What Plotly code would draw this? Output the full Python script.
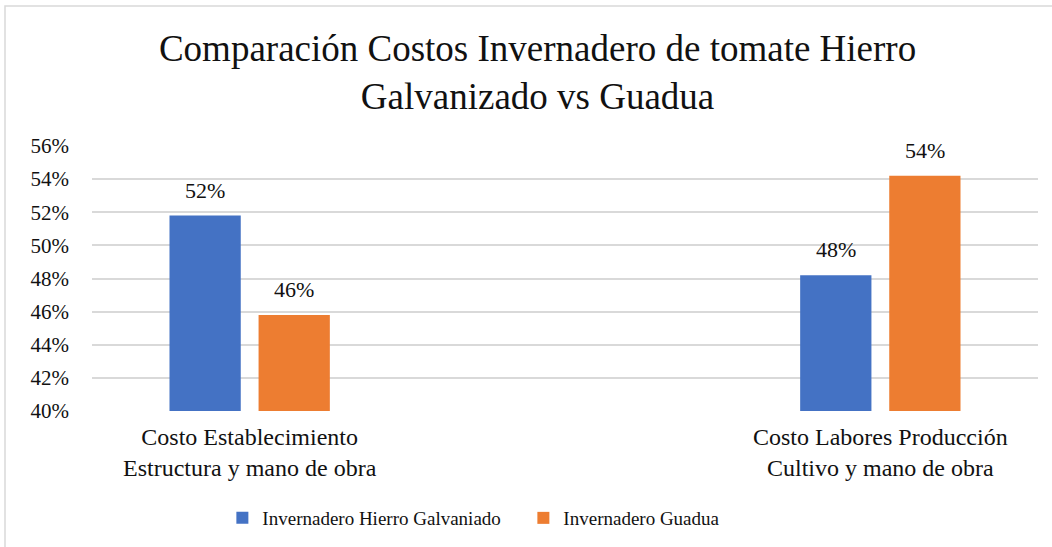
import plotly.graph_objects as go

categories = ["Costo Establecimiento<br>Estructura y mano de obra",
              "Costo Labores Producción<br>Cultivo y mano de obra"]
axis_categories = [categories[0], " ", categories[1]]
series_names = ["Invernadero Hierro Galvaniado", "Invernadero Guadua"]
hierro_values = [0.518, 0.482]
guadua_values = [0.458, 0.542]
y_ticks = [0.40, 0.42, 0.44, 0.46, 0.48, 0.50, 0.52, 0.54, 0.56]
colors = ["#4472C4", "#ED7D31"]

FONT = "Liberation Serif, Times New Roman, serif"
TXT = "#111111"

W, H = 1052, 547
ML, MR, MT, MB = 92, 14, 146, 136
BARGAP, GROUPGAP = 0.435, 0.2

fig = go.Figure()
series = [hierro_values, guadua_values]
for name, vals, col in zip(series_names, series, colors):
    fig.add_trace(go.Bar(
        x=categories, y=vals, name=name, marker_color=col,
        marker_line_width=0, cliponaxis=False,
    ))

# data labels placed above each bar (offset derived from the bar layout)
plot_w = W - ML - MR
slot_px = plot_w / len(axis_categories) * (1 - BARGAP) / len(series)
for i, vals in enumerate(series):
    for cat, v in zip(categories, vals):
        fig.add_annotation(x=cat, y=v, text=f"{round(v * 100)}%",
                           showarrow=False, yanchor="bottom", xanchor="center",
                           xshift=(i - (len(series) - 1) / 2) * slot_px, yshift=11,
                           font=dict(family=FONT, size=22, color=TXT))

fig.update_layout(
    width=W, height=H,
    margin=dict(l=ML, r=MR, t=MT, b=MB),
    paper_bgcolor="white", plot_bgcolor="white",
    barmode="group", bargap=BARGAP, bargroupgap=GROUPGAP,
    title=dict(text="Comparación Costos Invernadero de tomate Hierro<br>Galvanizado vs Guadua",
               font=dict(family=FONT, size=37, color=TXT),
               x=0.511, xanchor="center", xref="container",
               y=0.889, yanchor="top", yref="container"),
    legend=dict(orientation="h", x=0.4975, xanchor="center", xref="container",
                y=0.053, yanchor="middle", yref="container",
                font=dict(family=FONT, size=19, color=TXT),
                itemwidth=30, traceorder="normal", entrywidth=256),
    showlegend=True,
    font=dict(family=FONT, color=TXT),
)
fig.update_xaxes(type="category", categoryorder="array", categoryarray=axis_categories,
                 range=[-0.5, 2.5], showgrid=False, showline=False, zeroline=False,
                 ticks="", tickfont=dict(family=FONT, size=24, color=TXT),
                 ticklabelstandoff=9)
fig.update_yaxes(range=[0.40, 0.56], tickvals=y_ticks, tickformat=".0%",
                 showgrid=True, gridcolor="#D9D9D9", gridwidth=1.5,
                 zeroline=False, showline=False, ticks="",
                 tickfont=dict(family=FONT, size=21, color=TXT),
                 ticklabelstandoff=22)
fig.add_shape(type="rect", xref="paper", yref="paper",
              x0=(5 - ML) / plot_w, x1=1.2, y0=-0.8, y1=(H - MB - 6) / (H - MT - MB),
              line=dict(color="#D9D9D9", width=1.5), fillcolor="rgba(0,0,0,0)",
              layer="below")

fig.write_html("out.html", config={"displayModeBar": False},
               post_script="document.body.style.margin='0';")
